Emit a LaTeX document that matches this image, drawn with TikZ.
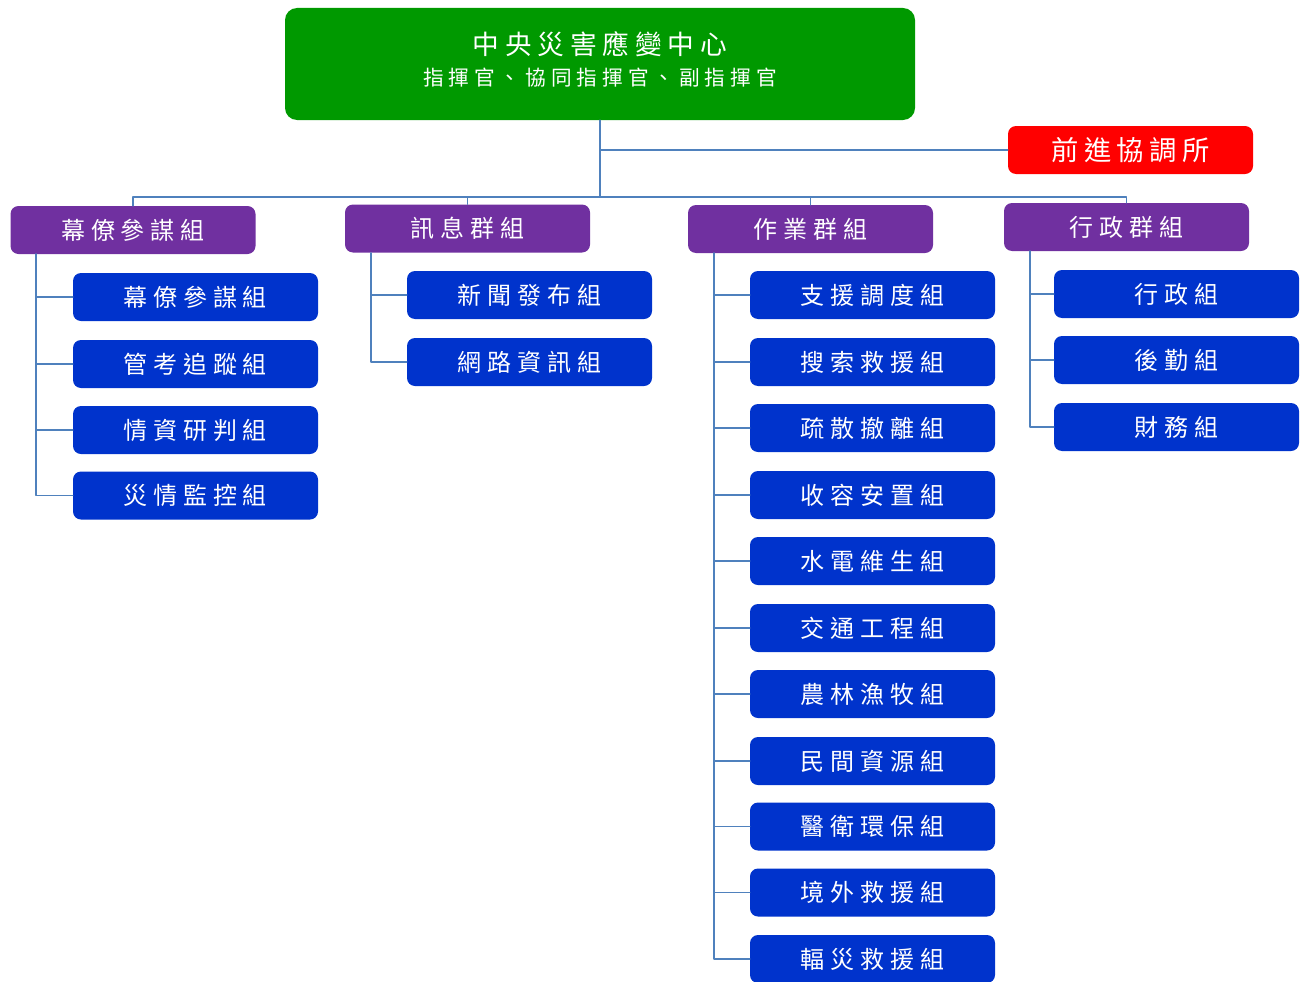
\documentclass[tikz,border=0pt]{standalone}
\usepackage{fontspec}
\newfontfamily\cjkhead[LetterSpace=22]{Noto Sans CJK TC}
\newfontfamily\cjksub[LetterSpace=24]{Noto Sans CJK TC}
\newfontfamily\cjkfwd[LetterSpace=20]{Noto Sans CJK TC}
\definecolor{hqgreen}{RGB}{0,153,0}
\definecolor{grppurple}{RGB}{112,48,160}
\definecolor{unitblue}{RGB}{0,51,204}
\definecolor{fwdred}{RGB}{255,0,0}
\definecolor{linkblue}{RGB}{79,129,189}
\begin{document}
\begin{tikzpicture}[line join=round, line cap=round, x=.75pt, y=-.75pt,
	box/.style={rounded corners=6pt, inner sep=0pt, text=white, minimum width=183.75pt, minimum height=36pt},
	grp/.style={box, fill=grppurple, font=\cjksub\fontsize{18}{20}\selectfont},
	unit/.style={box, fill=unitblue, font=\cjksub\fontsize{18}{20}\selectfont},
	link/.style={draw=linkblue, line width=1.2pt}]
	\useasboundingbox (0,0) rectangle (1309,981);
	% head and forward post
	\node[rounded corners=9pt, inner sep=0pt, text=white, fill=hqgreen, minimum width=472.5pt, minimum height=84pt, align=center, text depth=8pt, font=\fontsize{15}{23}\selectfont] (hq) at (600,64)
	{{\cjkhead\fontsize{20}{24}\selectfont 中央災害應變中心}\\{\cjksub\fontsize{15.5}{18}\selectfont 指揮官、協同指揮官、副指揮官}};
	\node[box, fill=fwdred, font=\cjkfwd\fontsize{20.5}{24}\selectfont] (fwd) at (1130.5,150) {前進協調所};
	% groups
	\node[grp] (g1) at (133,230) {幕僚參謀組};
	\node[grp] (g2) at (467.5,228.5) {訊息群組};
	\node[grp] (g3) at (810.5,229) {作業群組};
	\node[grp] (g4) at (1126.5,227) {行政群組};
	% units
	\node[unit] (a1) at (195.5,297) {幕僚參謀組};
	\node[unit] (a2) at (195.5,364) {管考追蹤組};
	\node[unit] (a3) at (195.5,430) {情資研判組};
	\node[unit] (a4) at (195.5,495.5) {災情監控組};
	\node[unit] (b1) at (529.5,295) {新聞發布組};
	\node[unit] (b2) at (529.5,362) {網路資訊組};
	\node[unit] (c1) at (872.5,295) {支援調度組};
	\node[unit] (c2) at (872.5,362) {搜索救援組};
	\node[unit] (c3) at (872.5,428) {疏散撤離組};
	\node[unit] (c4) at (872.5,495) {收容安置組};
	\node[unit] (c5) at (872.5,561) {水電維生組};
	\node[unit] (c6) at (872.5,628) {交通工程組};
	\node[unit] (c7) at (872.5,694) {農林漁牧組};
	\node[unit] (c8) at (872.5,761) {民間資源組};
	\node[unit] (c9) at (872.5,826.5) {醫衛環保組};
	\node[unit] (c10) at (872.5,892.5) {境外救援組};
	\node[unit] (c11) at (872.5,959) {輻災救援組};
	\node[unit] (d1) at (1176.5,294) {行政組};
	\node[unit] (d2) at (1176.5,360) {後勤組};
	\node[unit] (d3) at (1176.5,427) {財務組};
	% connectors
	\coordinate (bus) at (600,197);
	\coordinate (s1) at (36,254);
	\coordinate (s2) at (371,253);
	\coordinate (s3) at (714,253);
	\coordinate (s4) at (1030,251);
	\draw[link] (hq.south)--(bus);
	\draw[link] (hq.south |- fwd.west)--(fwd.west);
	\draw[link] (g1.north) |- (bus) -| (g4.north);
	\draw[link] (g2.north) |- (bus) -| (g3.north);
	\draw[link] (s1) |- (a1.west) (s1) |- (a2.west) (s1) |- (a3.west) (s1) |- (a4.west);
	\draw[link] (s2) |- (b1.west) (s2) |- (b2.west);
	\draw[link] (s3) |- (c1.west) (s3) |- (c2.west) (s3) |- (c3.west) (s3) |- (c4.west)
	(s3) |- (c5.west) (s3) |- (c6.west) (s3) |- (c7.west) (s3) |- (c8.west)
	(s3) |- (c9.west) (s3) |- (c10.west) (s3) |- (c11.west);
	\draw[link] (s4) |- (d1.west) (s4) |- (d2.west) (s4) |- (d3.west);
\end{tikzpicture}
\end{document}
